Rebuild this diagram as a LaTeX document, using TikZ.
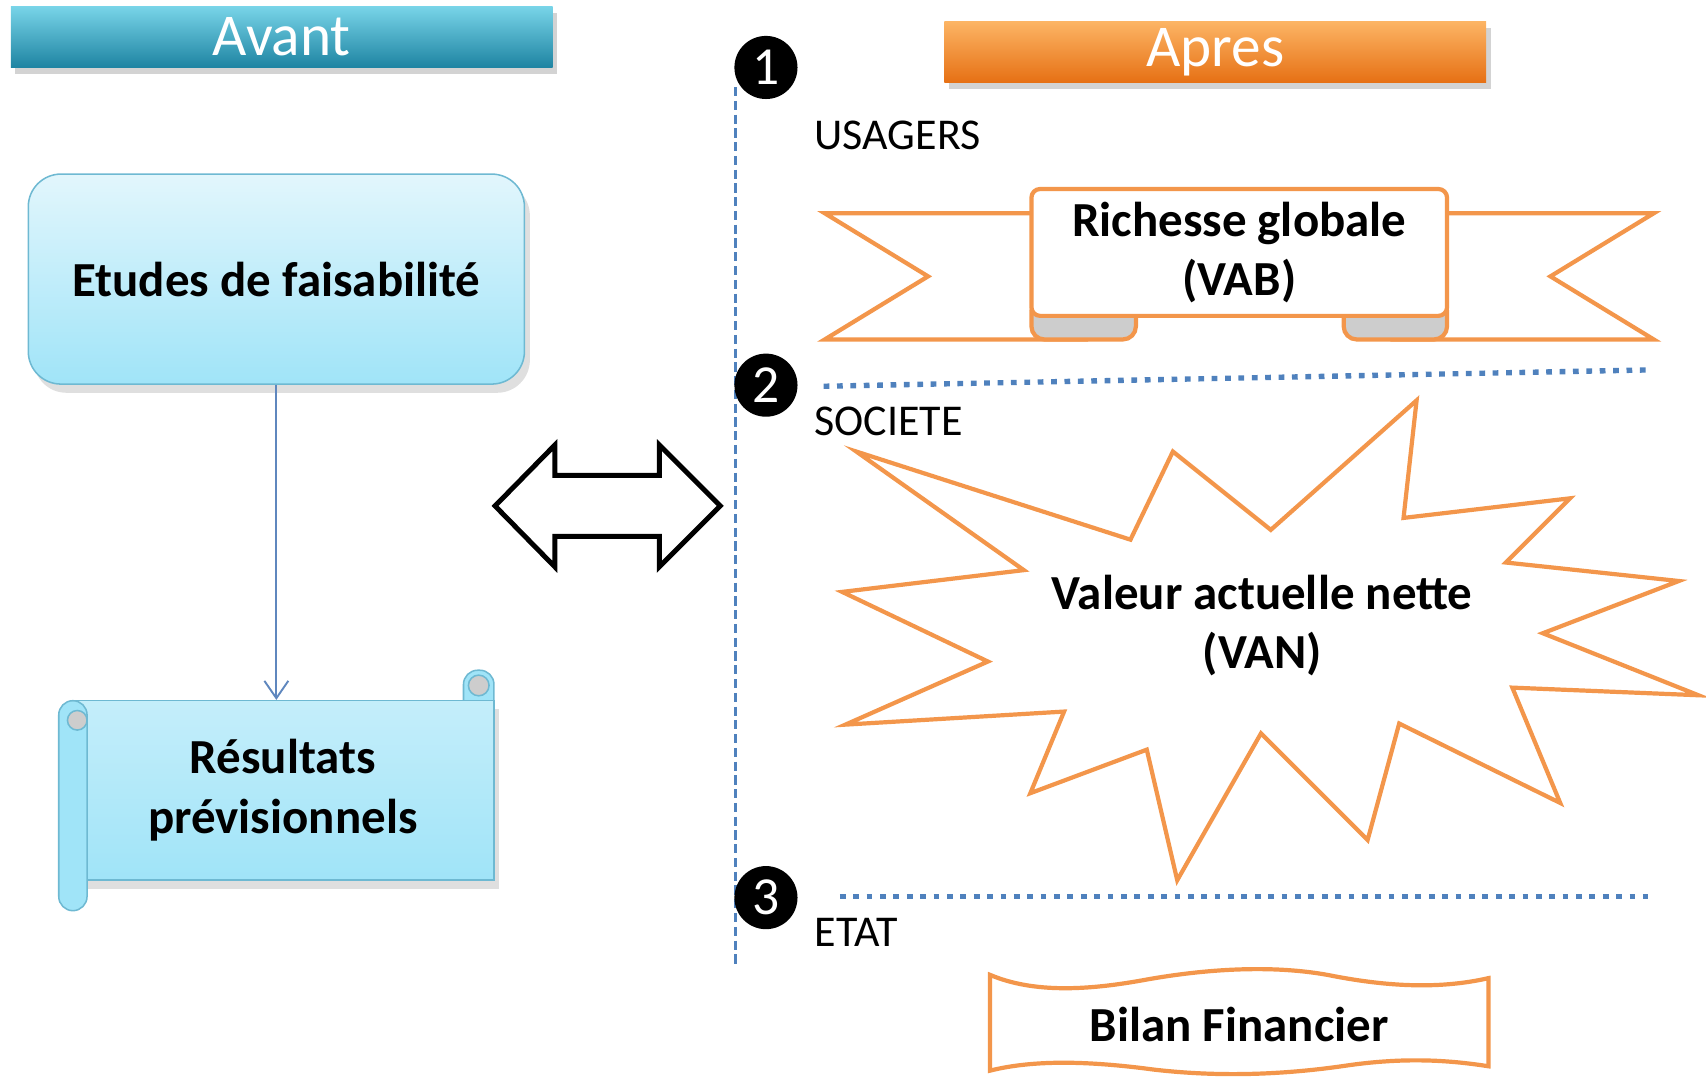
\documentclass[tikz,border=0pt]{standalone}
\usepackage{fontspec}
\setmainfont{Carlito}
\usepackage{tikz}
\usetikzlibrary{arrows.meta,positioning,shadows}
\definecolor{avteal}{RGB}{30,132,162}
\definecolor{avtealmid}{RGB}{62,176,206}
\definecolor{avteallt}{RGB}{120,212,232}
\definecolor{aporange}{RGB}{230,112,20}
\definecolor{aporangemid}{RGB}{247,150,70}
\definecolor{aporangelt}{RGB}{252,180,100}
\definecolor{boxcyan}{RGB}{160,228,248}
\definecolor{boxcyanlt}{RGB}{226,246,252}
\definecolor{boxedge}{RGB}{110,185,210}
\definecolor{linkblue}{RGB}{95,135,190}
\definecolor{sepblue}{RGB}{79,129,189}
\definecolor{vanorange}{RGB}{243,150,75}
\definecolor{foldgrey}{RGB}{205,205,205}

\begin{document}
\begin{tikzpicture}[x=1mm, y=-1mm,
  titlebar/.style={minimum width=49.8mm, minimum height=5.6mm, inner sep=0pt, text=white,
    font=\fontsize{15.5}{18}\selectfont,
    drop shadow={opacity=0.35, shadow xshift=0.4mm, shadow yshift=-0.6mm}},
  numdot/.style={circle, fill=black, minimum size=5.8mm, inner sep=0pt, text=white,
    font=\fontsize{14}{16}\selectfont},
  party/.style={anchor=west, inner sep=0pt, font=\fontsize{11.5}{14}\selectfont},
  boldtxt/.style={align=center, font=\bfseries\fontsize{12.8}{15.6}\selectfont},
  sepline/.style={sepblue, line width=1.4pt, dash pattern=on 1.5pt off 2pt},
  outl/.style={draw=vanorange, line width=1.1pt, fill=white}]
\useasboundingbox (0,0) rectangle (156.8,99.0);
% -- Headers --
\node[titlebar, top color=avteallt, middle color=avtealmid, bottom color=avteal] (avant) at (25.9,3.4) {Avant};
\node[titlebar, top color=aporangelt, middle color=aporangemid, bottom color=aporange] (apres) at (111.7,4.8) {Apres};
% -- Left: Avant --
\node[boldtxt, rounded corners=3mm, draw=boxedge, top color=boxcyanlt, bottom color=boxcyan,
  minimum width=45.6mm, minimum height=19.3mm,
  drop shadow={opacity=0.25, shadow xshift=0.5mm, shadow yshift=-0.8mm}]
  (etudes) at (25.4,25.65) {Etudes de faisabilité};
\draw[draw=boxedge, fill=boxcyan, rounded corners=1.3mm] (42.6,61.6) rectangle (45.4,66.0);
\draw[draw=boxedge, fill=foldgrey] (44.0,63.0) circle (0.95mm);
\node[boldtxt, draw=boxedge, top color=boxcyanlt!55!boxcyan, bottom color=boxcyan,
  minimum width=38.8mm, minimum height=16.5mm,
  drop shadow={opacity=0.25, shadow xshift=0.5mm, shadow yshift=-0.8mm}]
  (resultats) at (26.0,72.65) {Résultats\\prévisionnels};
\draw[draw=boxedge, fill=boxcyan, rounded corners=1.3mm] (5.4,64.4) rectangle (8.0,83.7);
\draw[draw=boxedge, fill=foldgrey] (7.1,66.2) circle (0.9mm);
\draw[linkblue, line width=0.5pt, -{Straight Barb[length=1.6mm, width=2.2mm]}]
  (etudes.south) -- (etudes.south |- resultats.north);
% Double arrow
\draw[black, line width=1.3pt, fill=white, line join=miter]
  (45.5,46.5) -- (51.0,40.9) -- (51.0,43.7) -- (60.6,43.7) -- (60.6,40.9) -- (66.2,46.5)
  -- (60.6,52.1) -- (60.6,49.3) -- (51.0,49.3) -- (51.0,52.1) -- cycle;
% -- Right: Apres --
\draw[sepblue, line width=0.8pt, dash pattern=on 2.4pt off 1.2pt] (67.6,8.0) -- (67.6,88.8);
\node[numdot] (n1) at (70.4,6.2) {1};
\node[numdot] (n2) at (70.4,35.4) {2};
\node[numdot] (n3) at (70.4,82.5) {3};
\node[party] (usagers) at (74.8,12.4) {USAGERS};
\node[party] (societe) at (74.8,38.7) {SOCIETE};
\node[party] (etat) at (74.8,85.7) {ETAT};
\draw[sepline] (75.7,35.5) -- (151.5,34.0);
\draw[sepline] (77.2,82.4) -- (151.5,82.4);
% Ribbon
\draw[outl] (100,19.6) -- (75.8,19.6) -- (85.3,25.4) -- (75.8,31.2) -- (100,31.2);
\draw[outl] (127.8,19.6) -- (152.0,19.6) -- (142.5,25.4) -- (152.0,31.2) -- (127.8,31.2);
\draw[draw=vanorange, line width=1.1pt, fill=foldgrey, rounded corners=1.2mm] (94.8,27.4) rectangle (104.4,31.2);
\draw[draw=vanorange, line width=1.1pt, fill=foldgrey, rounded corners=1.2mm] (123.5,27.4) rectangle (133.0,31.2);
\node[outl, boldtxt, minimum width=38.2mm, minimum height=11.6mm, rounded corners=0.8mm]
  (vab) at (113.9,23.2) {Richesse globale\\(VAB)};
% Explosion
\draw[outl, line join=miter] (78.7,41.5) -- (103.9,49.6) -- (107.8,41.5) -- (116.8,48.7)
  -- (130.2,36.8) -- (129.0,47.6) -- (144.3,45.8) -- (138.4,51.7) -- (154.3,53.4)
  -- (141.8,58.2) -- (156.1,63.9) -- (139.0,63.2) -- (143.4,73.8) -- (128.6,66.5)
  -- (125.7,77.2) -- (115.9,67.4) -- (108.2,80.9) -- (105.4,68.9) -- (94.7,72.9)
  -- (97.8,65.4) -- (77.7,66.6) -- (90.8,60.8) -- (77.4,54.4) -- (94.1,52.4) -- cycle;
\node[boldtxt] (van) at (116.0,57.5) {Valeur actuelle nette\\(VAN)};
% Wavy box
\draw[outl] (91.0,89.6) .. controls (95,91.3) and (100,91.0) .. (105,90.1)
  .. controls (111,89.0) and (117,88.7) .. (122,89.6)
  .. controls (127,90.6) and (132,91.0) .. (136.8,89.9) -- (136.8,98.0)
  .. controls (133,97.4) and (129,97.2) .. (124,97.9)
  .. controls (118,98.8) and (112,99.0) .. (106,98.3)
  .. controls (100,97.5) and (95,97.4) .. (91.0,98.4) -- cycle;
\node[boldtxt] (bilan) at (113.9,94.2) {Bilan Financier};
\end{tikzpicture}
\end{document}
